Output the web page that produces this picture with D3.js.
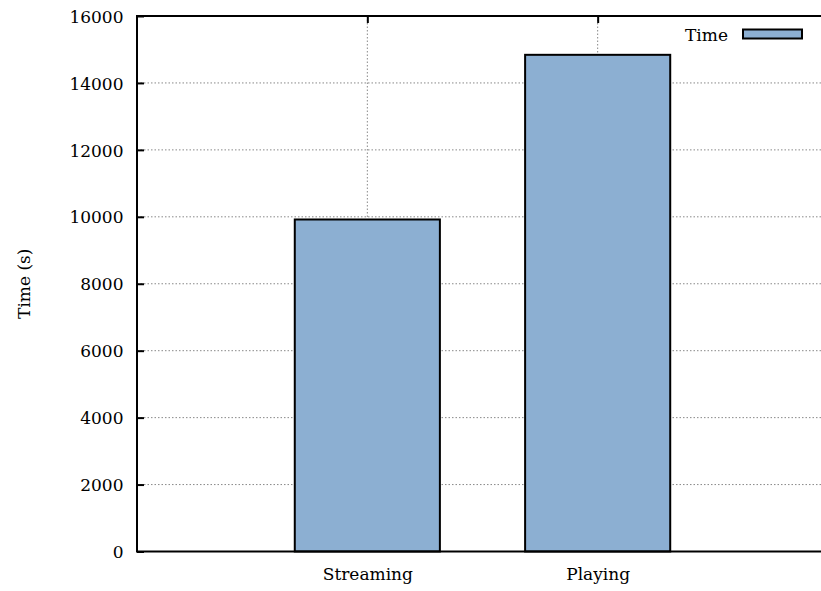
<!DOCTYPE html>
<html>
<head>
<meta charset="utf-8">
<script src="https://cdn.jsdelivr.net/npm/d3@7"></script>
<style>
  html, body { margin: 0; padding: 0; background: #fff; }
  svg { display: block; }
</style>
</head>
<body>
<svg id="chart" width="821" height="591"></svg>
<script>
// Activity durations in seconds
const categories = ["Streaming", "Playing"];
const timeValues = [9920, 14840];
const yTicks = [0, 2000, 4000, 6000, 8000, 10000, 12000, 14000, 16000];
const seriesName = "Time";

const FONT = "'DejaVu Serif', serif";
const fontSize = 17;
const fill = "#8cafd2";

const svg = d3.select("#chart");
const plot = { left: 137, right: 828, top: 16, bottom: 551.5 };

// Categories sit at integer positions, with one empty slot on each side
const x = d3.scaleLinear().domain([-1, categories.length]).range([plot.left, plot.right]);
const y = d3.scaleLinear().domain([0, 16000]).range([plot.bottom, plot.top]);
const boxWidth = 0.63;

function styleText(sel) {
  sel.style("font-family", FONT).style("font-size", fontSize + "px").attr("fill", "#000");
}

// Horizontal grid
svg.append("g")
  .selectAll("line")
  .data(yTicks.slice(1, -1))
  .join("line")
  .attr("x1", plot.left).attr("x2", plot.right)
  .attr("y1", d => y(d)).attr("y2", d => y(d))
  .attr("stroke", "#888").attr("stroke-width", 1)
  .attr("stroke-dasharray", "1.5,2");

// Vertical grid at category positions
svg.append("g")
  .selectAll("line")
  .data(categories)
  .join("line")
  .attr("x1", (d, i) => x(i)).attr("x2", (d, i) => x(i))
  .attr("y1", plot.top).attr("y2", plot.bottom)
  .attr("stroke", "#888").attr("stroke-width", 1)
  .attr("stroke-dasharray", "1.5,2");

// Bars
svg.append("g")
  .selectAll("rect")
  .data(timeValues)
  .join("rect")
  .attr("x", (d, i) => x(i - boxWidth / 2))
  .attr("width", (d, i) => x(i + boxWidth / 2) - x(i - boxWidth / 2))
  .attr("y", d => y(d))
  .attr("height", d => y(0) - y(d))
  .attr("fill", fill)
  .attr("stroke", "#000")
  .attr("stroke-width", 2);

// Left axis with inward ticks
const yAxis = d3.axisLeft(y).tickValues(yTicks).tickSize(-7).tickPadding(13.5).tickFormat(d3.format("d"));
const gy = svg.append("g").attr("transform", `translate(${plot.left},0)`).call(yAxis);
gy.select(".domain").remove();
gy.selectAll(".tick line").attr("stroke", "#000").attr("stroke-width", 2);
gy.selectAll(".tick text").call(styleText).attr("x", -13.5).attr("dy", "0.36em");

// Top mirror ticks
const xTop = d3.axisTop(x).tickValues(categories.map((d, i) => i)).tickSize(-7).tickFormat("");
const gt = svg.append("g").attr("transform", `translate(0,${plot.top})`).call(xTop);
gt.select(".domain").remove();
gt.selectAll(".tick line").attr("stroke", "#000").attr("stroke-width", 2);

// Bottom category labels
const xAxis = d3.axisBottom(x).tickValues(categories.map((d, i) => i)).tickSize(0).tickPadding(14)
  .tickFormat(i => categories[i]);
const gx = svg.append("g").attr("transform", `translate(0,${plot.bottom})`).call(xAxis);
gx.select(".domain").remove();
gx.selectAll(".tick text").call(styleText).attr("y", 28.5).attr("dy", 0);

// Plot border
svg.append("rect")
  .attr("x", plot.left).attr("y", plot.top)
  .attr("width", plot.right - plot.left).attr("height", plot.bottom - plot.top)
  .attr("fill", "none").attr("stroke", "#000").attr("stroke-width", 2);

// Y-axis title
svg.append("text")
  .attr("transform", `translate(30,${(plot.top + plot.bottom) / 2}) rotate(-90)`)
  .attr("text-anchor", "middle")
  .call(styleText)
  .text("Time (s)");

// Legend
const legend = svg.append("g");
legend.append("text")
  .attr("x", 728).attr("y", 40.5)
  .attr("text-anchor", "end")
  .call(styleText)
  .text(seriesName);
legend.append("rect")
  .attr("x", 743).attr("y", 29.5)
  .attr("width", 59).attr("height", 9)
  .attr("fill", fill).attr("stroke", "#000").attr("stroke-width", 2);
</script>
</body>
</html>
